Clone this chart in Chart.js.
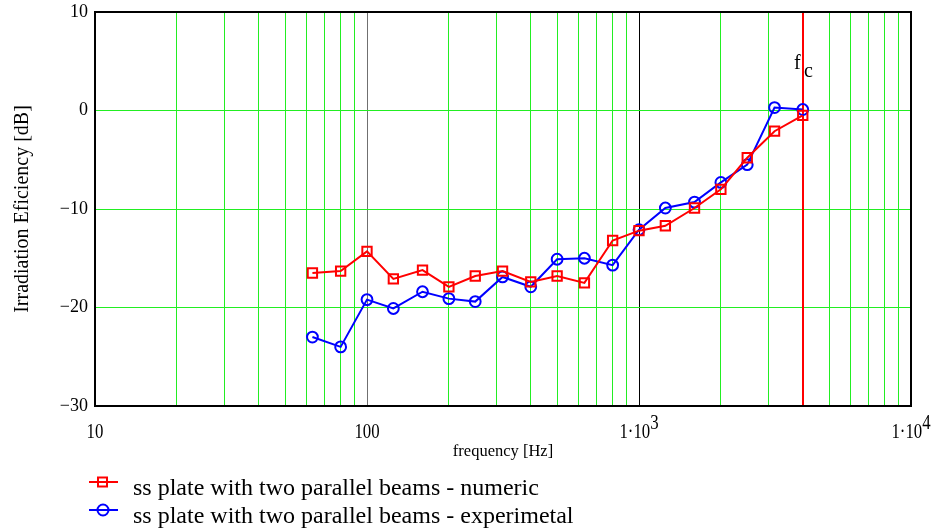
<!DOCTYPE html>
<html><head><meta charset="utf-8">
<script src="https://cdn.jsdelivr.net/npm/chart.js@4/dist/chart.umd.min.js"></script>
<style>html,body{margin:0;padding:0;background:#fff}#wrap{width:934px;height:530px;position:relative}</style>
</head><body><div id="wrap"><canvas id="c" width="934" height="530"></canvas></div>
<script>
// ---- data ----
const frequencies = [63, 80, 100, 125, 160, 200, 250, 315, 400, 500, 630, 800, 1000, 1250, 1600, 2000, 2500, 3150, 4000];
const numericDb = [-16.5, -16.3, -14.3, -17.1, -16.2, -17.9, -16.8, -16.3, -17.4, -16.8, -17.5, -13.2, -12.2, -11.7, -9.9, -8.0, -4.8, -2.1, -0.5];
const experimentalDb = [-23.0, -24.0, -19.2, -20.1, -18.4, -19.1, -19.4, -16.9, -17.9, -15.1, -15.0, -15.7, -12.1, -9.9, -9.3, -7.3, -5.5, 0.3, 0.1];
const seriesLabels = ["ss plate with two parallel beams - numeric", "ss plate with two parallel beams - experimetal"];
const xGridValues = [10,20,30,40,50,60,70,80,90,100,200,300,400,500,600,700,800,900,1000,2000,3000,4000,5000,6000,7000,8000,9000,10000];
const xLabelValues = [10, 100, 1000, 10000];
const xLabelBase = ["10", "100", "1\u00b710", "1\u00b710"];
const xLabelExp = ["", "", "3", "4"];
const yTickValues = [10, 0, -10, -20, -30];
const fcValue = 4000;
const fcLabel = ["f", "c"];
const xTitle = "frequency [Hz]";
const yTitle = "Irradiation Eficiency [dB]";

const SERIF = '"Liberation Serif", "DejaVu Serif", serif';
const GREEN = '#22ee22';

const overlay = {
  id: 'overlay',
  beforeDatasetsDraw(chart) {
    const {ctx, chartArea: a, scales: {x}} = chart;
    const fx = Math.round(x.getPixelForValue(fcValue));
    ctx.save();
    ctx.strokeStyle = '#ff0000';
    ctx.lineWidth = 2;
    ctx.beginPath(); ctx.moveTo(fx, a.top); ctx.lineTo(fx, a.bottom); ctx.stroke();
    ctx.fillStyle = '#000';
    ctx.font = '20px ' + SERIF;
    ctx.textBaseline = 'alphabetic';
    ctx.textAlign = 'left';
    ctx.fillText(fcLabel[0], fx - 9, 69);
    ctx.fillText(fcLabel[1], fx + 1, 77);
    ctx.restore();
  },
  afterDraw(chart) {
    const {ctx, chartArea: a, scales: {x}} = chart;
    ctx.save();
    // frame
    ctx.strokeStyle = '#000';
    ctx.lineWidth = 2;
    ctx.strokeRect(a.left, a.top, a.right - a.left, a.bottom - a.top);
    // x tick labels with superscripts (slightly condensed serif)
    const sx = 0.84;
    ctx.fillStyle = '#000';
    ctx.textBaseline = 'alphabetic';
    ctx.textAlign = 'left';
    xLabelValues.forEach((v, i) => {
      const px = x.getPixelForValue(v);
      ctx.font = '20px ' + SERIF;
      const wb = ctx.measureText(xLabelBase[i]).width * sx;
      const we = xLabelExp[i] ? ctx.measureText(xLabelExp[i]).width * sx : 0;
      const start = px - (wb + we) / 2;
      ctx.save(); ctx.translate(start, 438); ctx.scale(sx, 1);
      ctx.fillText(xLabelBase[i], 0, 0);
      ctx.restore();
      if (xLabelExp[i]) {
        ctx.save(); ctx.translate(start + wb, 429); ctx.scale(sx, 1);
        ctx.fillText(xLabelExp[i], 0, 0);
        ctx.restore();
      }
    });
    // legend
    chart.data.datasets.forEach((ds, i) => {
      const y = 482 + i * 28;
      ctx.strokeStyle = ds.borderColor;
      ctx.lineWidth = 2;
      ctx.beginPath(); ctx.moveTo(89, y); ctx.lineTo(118, y); ctx.stroke();
      if (ds.pointStyle === 'rect') {
        ctx.strokeRect(98, y - 4.5, 9, 9);
      } else {
        ctx.beginPath(); ctx.arc(103, y, 5.5, 0, Math.PI * 2); ctx.stroke();
      }
      ctx.fillStyle = '#000';
      ctx.font = '24px ' + SERIF;
      ctx.textBaseline = 'alphabetic';
      ctx.fillText(ds.label, 133, y + 13);
    });
    ctx.restore();
  }
};

new Chart(document.getElementById('c'), {
  type: 'line',
  data: {
    datasets: [
      {
        label: seriesLabels[0],
        data: frequencies.map((f, i) => ({x: f, y: numericDb[i]})),
        borderColor: '#ff0000', backgroundColor: 'rgba(0,0,0,0)',
        borderWidth: 2, pointStyle: 'rect', pointRadius: 6.6, pointBorderWidth: 2,
        pointBorderColor: '#ff0000', pointBackgroundColor: 'rgba(0,0,0,0)', tension: 0
      },
      {
        label: seriesLabels[1],
        data: frequencies.map((f, i) => ({x: f, y: experimentalDb[i]})),
        borderColor: '#0000ff', backgroundColor: 'rgba(0,0,0,0)',
        borderWidth: 2, pointStyle: 'circle', pointRadius: 5.4, pointBorderWidth: 2,
        pointBorderColor: '#0000ff', pointBackgroundColor: 'rgba(0,0,0,0)', tension: 0
      }
    ]
  },
  options: {
    responsive: false, animation: false, devicePixelRatio: 1,
    layout: {padding: {top: 12, right: 23, left: 0, bottom: 0}},
    plugins: {legend: {display: false}, tooltip: {enabled: false}},
    scales: {
      x: {
        type: 'logarithmic', min: 10, max: 10000,
        afterBuildTicks: s => { s.ticks = xGridValues.map(v => ({value: v})); },
        afterFit: s => { s.height = 124; s.paddingLeft = 0; s.paddingRight = 0; },
        ticks: {display: false},
        border: {display: false},
        grid: {
          drawTicks: false, lineWidth: 1,
          color: c => {
            const v = c.tick && c.tick.value;
            if (v === 100) return '#707070';
            if (v === 1000) return '#000000';
            if (v === 10 || v === 10000) return 'rgba(0,0,0,0)';
            return GREEN;
          }
        },
        title: {display: true, text: xTitle, color: '#000', font: {family: SERIF, size: 16.5}, padding: {top: 0, bottom: 68}}
      },
      y: {
        min: -30, max: 10,
        afterBuildTicks: s => { s.ticks = yTickValues.map(v => ({value: v})); },
        afterFit: s => { s.width = 95; s.paddingTop = 0; s.paddingBottom = 0; },
        border: {display: false},
        grid: {
          drawTicks: false, lineWidth: 1,
          color: c => {
            const v = c.tick && c.tick.value;
            if (v === 10 || v === -30) return 'rgba(0,0,0,0)';
            return GREEN;
          }
        },
        ticks: {
          color: '#000', padding: 7, font: {family: SERIF, size: 18},
          callback: v => String(v).replace('-', '\u2212')
        },
        title: {display: true, text: yTitle, color: '#000', font: {family: SERIF, size: 20}, padding: {top: 11, bottom: 0}}
      }
    }
  },
  plugins: [overlay]
});
</script></body></html>
